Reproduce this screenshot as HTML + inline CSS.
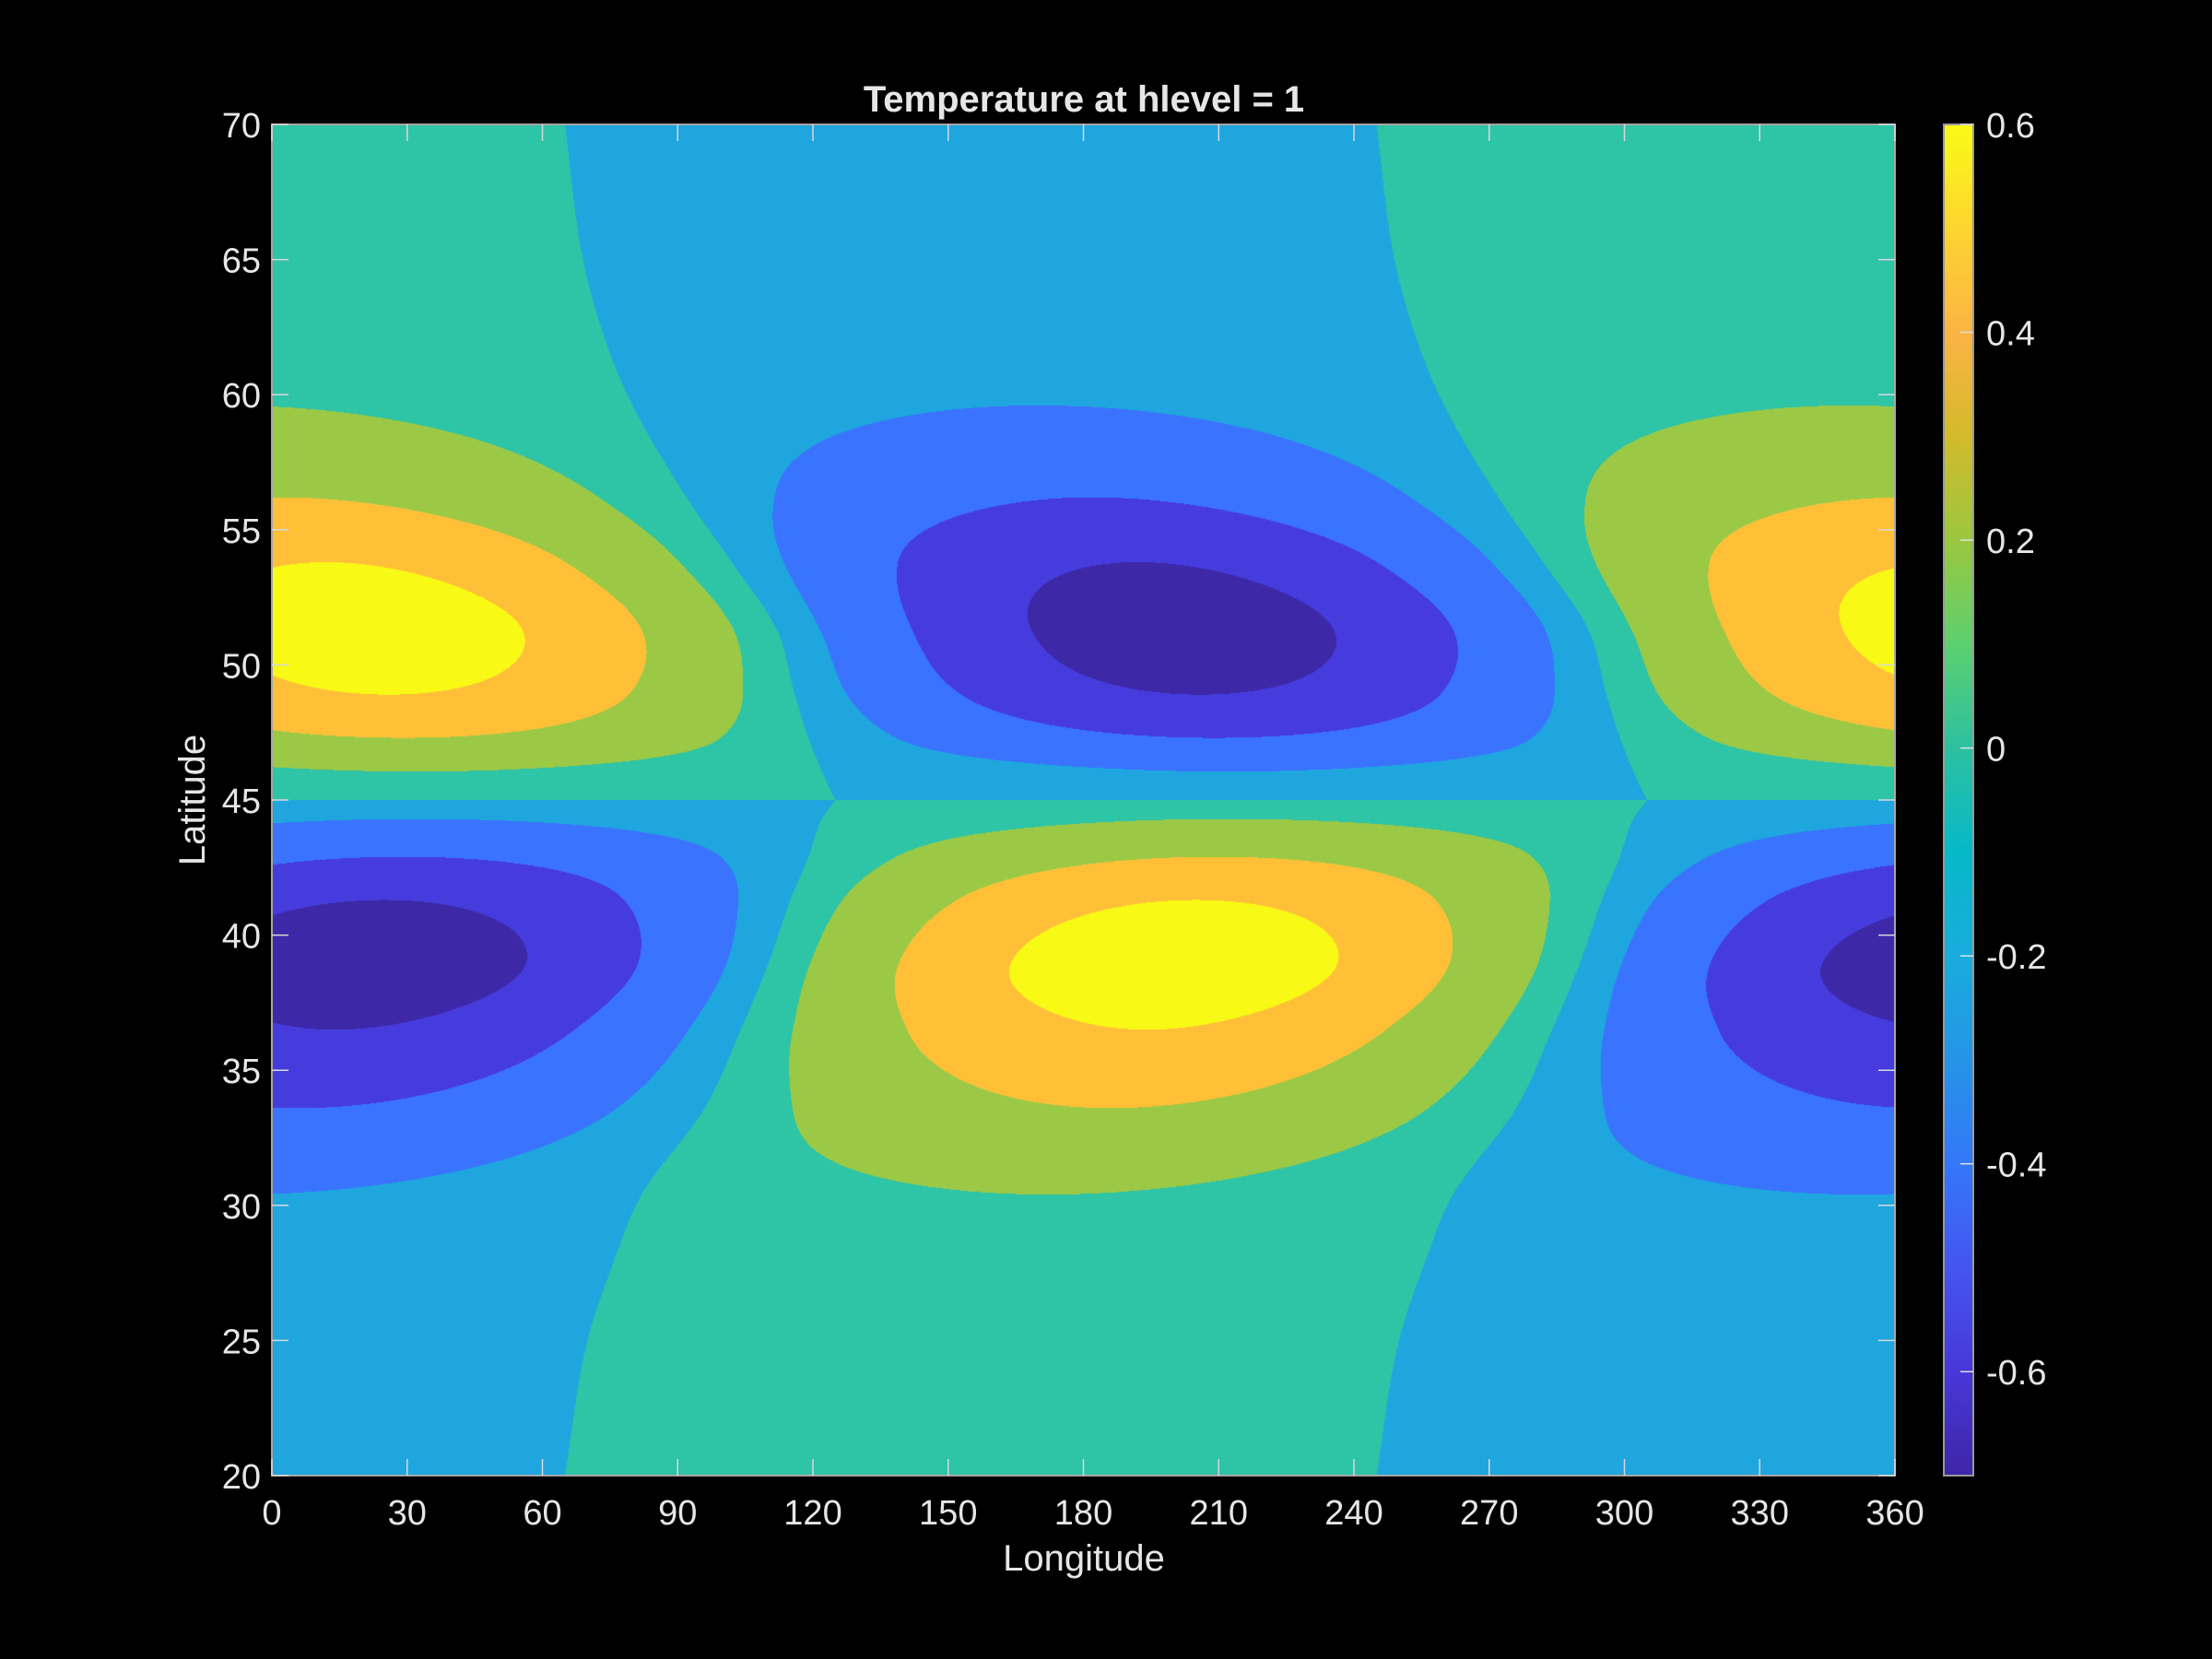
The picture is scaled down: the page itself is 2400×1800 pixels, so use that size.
<!DOCTYPE html>
<html><head><meta charset="utf-8">
<style>
html,body{margin:0;padding:0;background:#000;}
#wrap{position:relative;width:2400px;height:1800px;background:#000;overflow:hidden;}
#field{position:absolute;left:295px;top:135px;}
#ov{position:absolute;left:0;top:0;}
text{font-family:"Liberation Sans",Arial,sans-serif;fill:#e6e6e6;}
</style></head>
<body>
<div id="wrap">
<canvas id="field" width="1761" height="1466"></canvas>
<svg id="ov" width="2400" height="1800">
  <defs>
    <linearGradient id="parula" x1="0" y1="0" x2="0" y2="1"></linearGradient>
  </defs>
  <g id="axes"></g>
  <text x="1176" y="121" text-anchor="middle" font-size="40" font-weight="bold">Temperature at hlevel = 1</text>
  <text x="1176" y="1704" text-anchor="middle" font-size="40">Longitude</text>
  <text transform="translate(222,868) rotate(-90)" text-anchor="middle" font-size="40">Latitude</text>
  <rect x="2109" y="135" width="32" height="1466" fill="url(#parula)" stroke="#9a9a9a" stroke-width="2"></rect>
  <g id="cbar"></g>
</svg>
</div>
<script>
// Per-latitude wave amplitude & phase (deg)
const northLat   = [45, 46.05, 47.3, 48.9, 51.3, 53.8, 56.2, 59.6, 62, 65, 70];
const northAmp   = [0.07, 0.1, 0.3, 0.5, 0.6, 0.5, 0.3, 0.1, 0.06, 0.04, 0.03];
const northPhase = [35, 32, 29, 26, 22, 12, 2, -10, -16, -21, -25];
const southLat   = [20, 25, 28, 30.4, 33.6, 36.5, 38.9, 41.3, 42.9, 44.3, 45];
const southAmp   = [0.03, 0.04, 0.06, 0.1, 0.3, 0.5, 0.62, 0.5, 0.3, 0.1, 0.07];
const southPhase = [-25, -20, -14, -8, 6, 14, 20, 25, 29, 32, 35];
const levels     = [-0.5, -0.3, -0.1, 0, 0.1, 0.3, 0.5];
const bandColors = ['#3d28a8','#463cdd','#3a73fe','#1fa6df','#2ec4a6','#9bc946','#ffc038','#f8fa16'];
const xTicks = [0,30,60,90,120,150,180,210,240,270,300,330,360];
const yTicks = [20,25,30,35,40,45,50,55,60,65,70];
const cTicks = [-0.6,-0.4,-0.2,0,0.2,0.4,0.6];
const cStops = [[0.6,'#f9fb15'],[0.5,'#fdd52f'],[0.4,'#fbb444'],[0.3,'#d3ba2c'],[0.2,'#9bc73e'],[0.1,'#5cd06f'],[0,'#2dc0a0'],[-0.1,'#05b9c8'],[-0.2,'#19acdc'],[-0.3,'#2594e6'],[-0.4,'#3478f8'],[-0.5,'#4455f0'],[-0.6,'#4838d8'],[-0.7,'#3e26a8']];

const PX=295, PY=135, PW=1761, PH=1466;
const LON0=0, LON1=360, LAT0=20, LAT1=70, CMIN=-0.7, CMAX=0.6;
const xS = lon => PX + (lon-LON0)/(LON1-LON0)*PW;
const yS = lat => PY + (LAT1-lat)/(LAT1-LAT0)*PH;
const cY = v => PY + (CMAX-v)/(CMAX-CMIN)*PH;

// monotone cubic Hermite interpolation (smooth, no overshoot)
function makeInterp(xs, ys){
  const n=xs.length, d=[], m=new Array(n);
  for(let i=0;i<n-1;i++) d.push((ys[i+1]-ys[i])/(xs[i+1]-xs[i]));
  m[0]=d[0]; m[n-1]=d[n-2];
  for(let i=1;i<n-1;i++){ m[i] = (d[i-1]*d[i]<=0) ? 0 : (d[i-1]+d[i])/2; }
  for(let i=0;i<n-1;i++){
    if(d[i]===0){ m[i]=0; m[i+1]=0; continue; }
    const a=m[i]/d[i], b=m[i+1]/d[i], s=a*a+b*b;
    if(s>9){ const t=3/Math.sqrt(s); m[i]=t*a*d[i]; m[i+1]=t*b*d[i]; }
  }
  return function(x){
    if(x<=xs[0]) return ys[0];
    if(x>=xs[n-1]) return ys[n-1];
    let i=0; while(x>xs[i+1]) i++;
    const h=xs[i+1]-xs[i], t=(x-xs[i])/h, t2=t*t, t3=t2*t;
    return (2*t3-3*t2+1)*ys[i] + (t3-2*t2+t)*h*m[i] + (-2*t3+3*t2)*ys[i+1] + (t3-t2)*h*m[i+1];
  };
}
const nA=makeInterp(northLat,northAmp), nP=makeInterp(northLat,northPhase);
const sA=makeInterp(southLat,southAmp), sP=makeInterp(southLat,southPhase);
function value(lon, lat){
  if(lat>=45) return nA(lat)*Math.cos((lon-nP(lat))*Math.PI/180);
  return -sA(lat)*Math.cos((lon-sP(lat))*Math.PI/180);
}
function band(v){ let i=0; while(i<levels.length && v>=levels[i]) i++; return i; }
const rgb = bandColors.map(h=>[parseInt(h.slice(1,3),16),parseInt(h.slice(3,5),16),parseInt(h.slice(5,7),16)]);

// draw field
const cv=document.getElementById('field'); const ctx=cv.getContext('2d');
const img=ctx.createImageData(PW,PH);
for(let j=0;j<PH;j++){
  const lat = LAT1 - (j+0.5)/PH*(LAT1-LAT0);
  for(let i=0;i<PW;i++){
    const lon = LON0 + (i+0.5)/PW*(LON1-LON0);
    const c=rgb[band(value(lon,lat))]; const k=(j*PW+i)*4;
    img.data[k]=c[0]; img.data[k+1]=c[1]; img.data[k+2]=c[2]; img.data[k+3]=255;
  }
}
ctx.putImageData(img,0,0);

const NS='http://www.w3.org/2000/svg';
function mk(tag, attrs, parent){ const e=document.createElementNS(NS,tag); for(const k in attrs) e.setAttribute(k,attrs[k]); parent.appendChild(e); return e; }

const grad=document.getElementById('parula');
cStops.forEach(s=>{ mk('stop',{offset:((CMAX-s[0])/(CMAX-CMIN)).toFixed(4),'stop-color':s[1]},grad); });

const axes=document.getElementById('axes');
const box=mk('rect',{x:PX,y:PY,width:PW,height:PH,fill:'none',stroke:'#a6a6a6','stroke-width':2},axes);


const TL=18;
xTicks.forEach(t=>{
  const x=xS(t);
  const l1=mk('line',{x1:x,y1:PY+PH,x2:x,y2:PY+PH-TL,stroke:'#d8d8d8','stroke-width':1.5},axes);
  
  
  const l2=mk('line',{x1:x,y1:PY,x2:x,y2:PY+TL,stroke:'#d8d8d8','stroke-width':1.5},axes);
  
  
  const tx=mk('text',{x:x,y:1654,'text-anchor':'middle','font-size':38},axes);
  tx.textContent=String(t);
  
  
});
yTicks.forEach(t=>{
  const y=yS(t);
  const l1=mk('line',{x1:PX,y1:y,x2:PX+TL,y2:y,stroke:'#d8d8d8','stroke-width':1.5},axes);
  
  
  const l2=mk('line',{x1:PX+PW,y1:y,x2:PX+PW-TL,y2:y,stroke:'#d8d8d8','stroke-width':1.5},axes);
  
  
  const tx=mk('text',{x:283,y:y+14,'text-anchor':'end','font-size':38},axes);
  tx.textContent=String(t);
  
  
});
const cb=document.getElementById('cbar');
cTicks.forEach(t=>{
  const y=cY(t);
  const l=mk('line',{x1:2127,y1:y,x2:2141,y2:y,stroke:'#e0e0e0','stroke-width':1.5},cb);
  
  
  const tx=mk('text',{x:2155,y:y+14,'font-size':38},cb);
  tx.textContent=(t===0?'0':t.toFixed(1));
  
  
});
</script>
</body></html>
